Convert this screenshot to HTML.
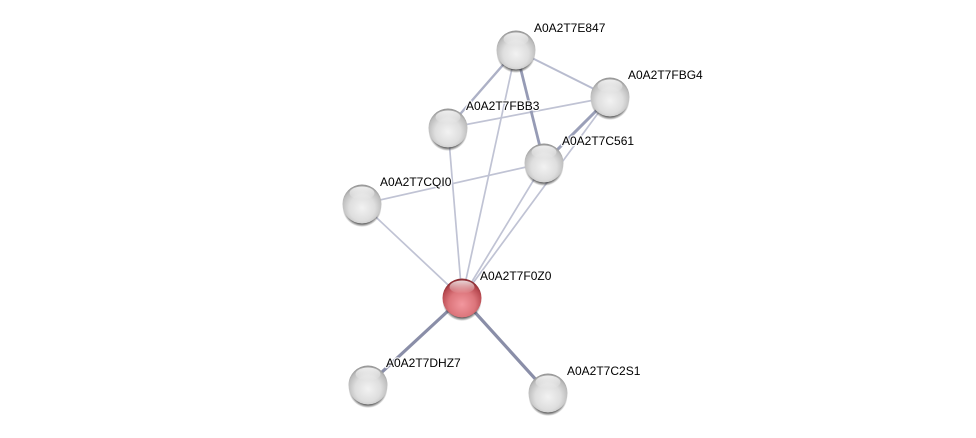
<!DOCTYPE html>
<html>
<head>
<meta charset="utf-8">
<style>
html,body{margin:0;padding:0;background:#fff;width:976px;height:438px;overflow:hidden}
svg{display:block}
text{font-family:"Liberation Sans",sans-serif;font-size:12px;fill:#000;paint-order:stroke;stroke:#fff;stroke-opacity:.85;stroke-width:2.5px;stroke-linejoin:round}
</style>
</head>
<body>
<svg width="976" height="438" viewBox="0 0 976 438" xmlns="http://www.w3.org/2000/svg">
<defs>
<radialGradient id="g" cx="50%" cy="60%" r="60%">
<stop offset="0" stop-color="#f2f2f2"/>
<stop offset=".55" stop-color="#dedede"/>
<stop offset=".85" stop-color="#bdbdbd"/>
<stop offset="1" stop-color="#8e8e8e"/>
</radialGradient>
<radialGradient id="r" cx="50%" cy="66%" r="62%">
<stop offset="0" stop-color="#f2979e"/>
<stop offset=".55" stop-color="#dc757b"/>
<stop offset=".85" stop-color="#b94b52"/>
<stop offset="1" stop-color="#8c2c32"/>
</radialGradient>
<linearGradient id="h" x1="0" y1="0" x2="0" y2="1">
<stop offset="0" stop-color="#fff" stop-opacity=".8"/>
<stop offset="1" stop-color="#fff" stop-opacity="0"/>
</linearGradient>
<radialGradient id="s" cx="50%" cy="50%" r="50%">
<stop offset=".8" stop-color="#222" stop-opacity=".85"/>
<stop offset="1" stop-color="#333" stop-opacity="0"/>
</radialGradient>
<g id="shine">
<ellipse cx="0" cy="-11" rx="12.5" ry="6.5" fill="url(#h)"/>
</g>
</defs>
<g fill="none" stroke="#c0c3d4" stroke-width="1.7">
<line x1="448" y1="128" x2="610" y2="97"/>
<line x1="362" y1="204" x2="544" y2="163"/>
<line x1="448" y1="128" x2="462" y2="298"/>
<line x1="516" y1="50" x2="462" y2="298"/>
<line x1="362" y1="204" x2="462" y2="298"/>
<line x1="544" y1="163" x2="462" y2="298"/>
<line x1="610" y1="97" x2="462" y2="298"/>
<line x1="516" y1="50" x2="610" y2="97" stroke="#b8bccf" stroke-width="2"/>
<line x1="516" y1="50" x2="448" y2="128" stroke="#adb1c6" stroke-width="2.4"/>
<line x1="516" y1="50" x2="544" y2="163" stroke="#969bb5" stroke-width="2.8"/>
<line x1="544" y1="163" x2="610" y2="97" stroke="#9a9fb8" stroke-width="3"/>
<line x1="462" y1="298" x2="368" y2="385" stroke="#8a8ea8" stroke-width="3.2"/>
<line x1="462" y1="298" x2="548" y2="393" stroke="#8a8ea8" stroke-width="3.2"/>
</g>
<g>
<ellipse cx="516" cy="53.5" rx="19.5" ry="19.5" fill="url(#s)"/>
<circle cx="516" cy="50" r="19.5" fill="url(#g)"/><use href="#shine" x="516" y="50"/>
<ellipse cx="610" cy="100.5" rx="19.5" ry="19.5" fill="url(#s)"/>
<circle cx="610" cy="97" r="19.5" fill="url(#g)"/><use href="#shine" x="610" y="97"/>
<ellipse cx="448" cy="131.5" rx="19.5" ry="19.5" fill="url(#s)"/>
<circle cx="448" cy="128" r="19.5" fill="url(#g)"/><use href="#shine" x="448" y="128"/>
<ellipse cx="544" cy="166.5" rx="19.5" ry="19.5" fill="url(#s)"/>
<circle cx="544" cy="163" r="19.5" fill="url(#g)"/><use href="#shine" x="544" y="163"/>
<ellipse cx="362" cy="207.5" rx="19.5" ry="19.5" fill="url(#s)"/>
<circle cx="362" cy="204" r="19.5" fill="url(#g)"/><use href="#shine" x="362" y="204"/>
<ellipse cx="462" cy="301.5" rx="19.5" ry="19.5" fill="url(#s)"/>
<circle cx="462" cy="298" r="19.5" fill="url(#r)"/><use href="#shine" x="462" y="298"/>
<ellipse cx="368" cy="388.5" rx="19.5" ry="19.5" fill="url(#s)"/>
<circle cx="368" cy="385" r="19.5" fill="url(#g)"/><use href="#shine" x="368" y="385"/>
<ellipse cx="548" cy="396.5" rx="19.5" ry="19.5" fill="url(#s)"/>
<circle cx="548" cy="393" r="19.5" fill="url(#g)"/><use href="#shine" x="548" y="393"/>
</g>
<text x="534" y="32">A0A2T7E847</text>
<text x="628" y="79">A0A2T7FBG4</text>
<text x="466" y="110">A0A2T7FBB3</text>
<text x="562" y="145">A0A2T7C561</text>
<text x="380" y="186">A0A2T7CQI0</text>
<text x="480" y="280">A0A2T7F0Z0</text>
<text x="386" y="367">A0A2T7DHZ7</text>
<text x="567" y="375">A0A2T7C2S1</text>
</svg>
</body>
</html>
